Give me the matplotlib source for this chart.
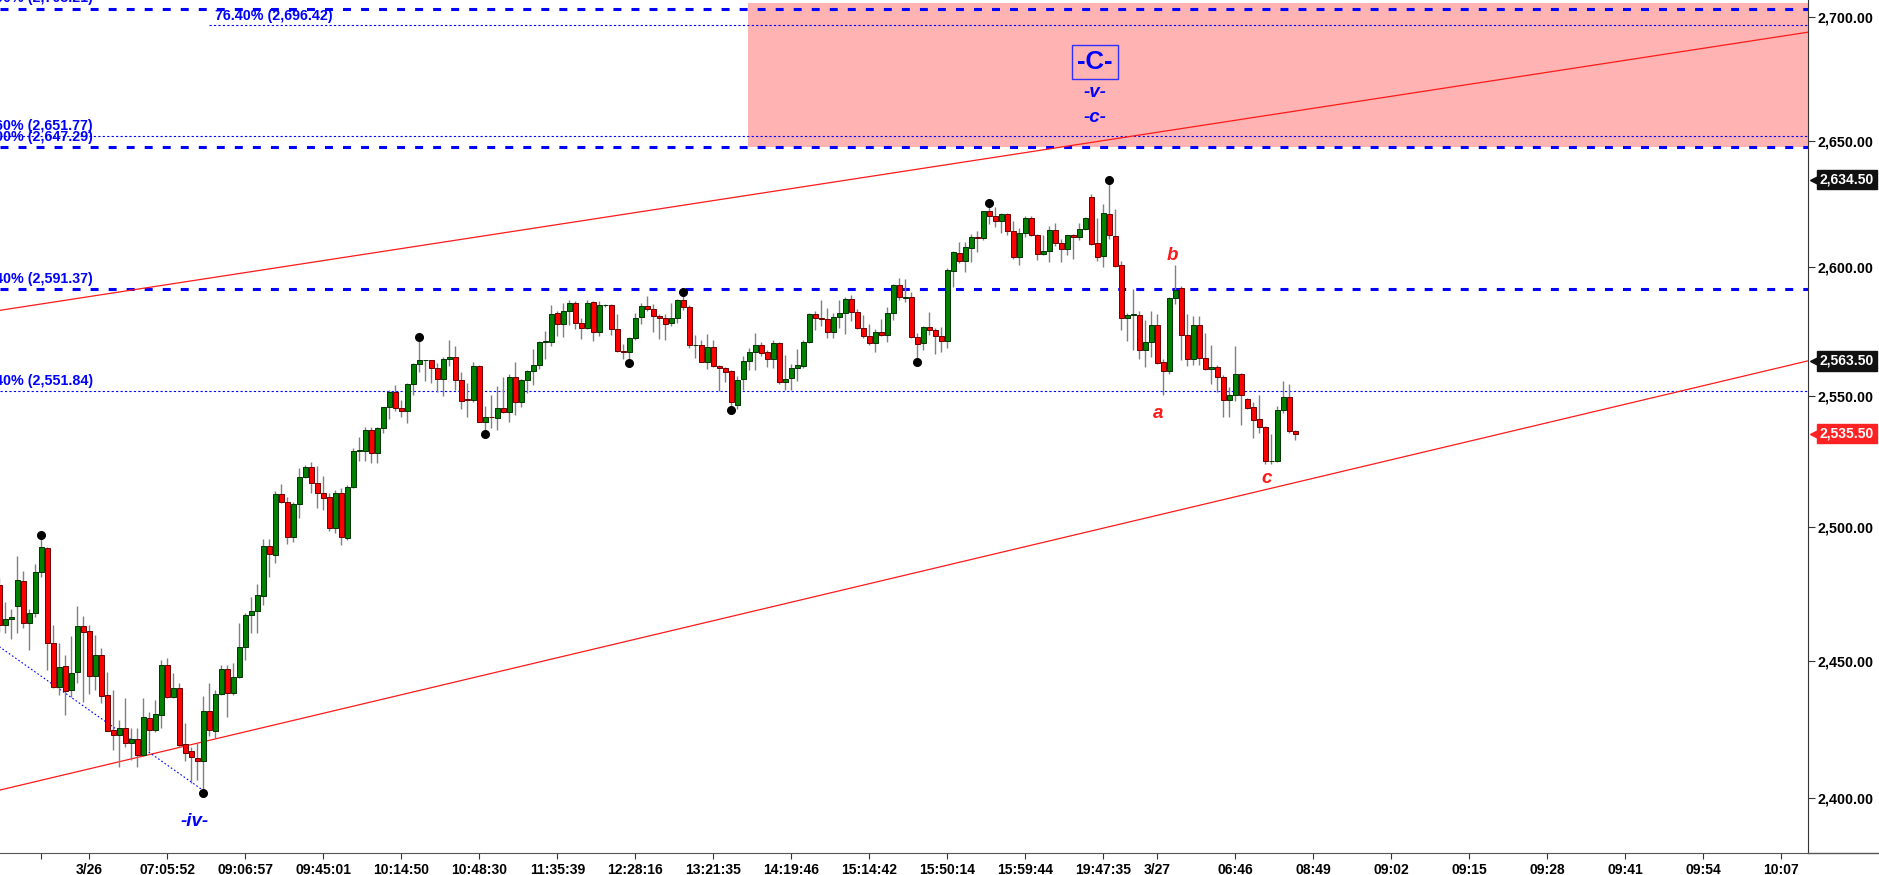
import numpy as np
import matplotlib
matplotlib.use("Agg")
import matplotlib.pyplot as plt
import matplotlib.transforms as mtransforms
from matplotlib.lines import Line2D
from matplotlib.ticker import NullLocator, FuncFormatter

plt.rcParams["font.family"] = ["Liberation Sans", "DejaVu Sans"]

# OHLC bars, one per candle
opens = [
    2478.3, 2463.5, 2465.5, 2470.5, 2479.8, 2464.1, 2467.8, 2483.1, 2492.1, 2456.7,
    2440.6, 2448.3, 2439.4, 2446.2, 2463.1, 2461.2, 2444.7, 2452.4, 2437.5, 2424.8,
    2423.0, 2425.4, 2419.9, 2421.4, 2415.7, 2429.3, 2424.8, 2430.2, 2448.7, 2436.7,
    2440.0, 2419.6, 2416.9, 2414.5, 2413.6, 2431.7, 2424.5, 2437.8, 2447.0, 2438.4,
    2444.1, 2455.4, 2467.2, 2468.8, 2474.3, 2493.0, 2489.6, 2512.4, 2509.7, 2496.5,
    2508.8, 2518.9, 2522.7, 2516.6, 2512.8, 2511.3, 2499.7, 2512.8, 2495.9, 2515.1,
    2528.9, 2529.0, 2537.0, 2528.3, 2537.6, 2545.6, 2551.4, 2545.2, 2544.0, 2554.5,
    2562.2, 2563.8, 2563.8, 2560.6, 2556.6, 2564.1, 2565.0, 2556.1, 2548.8, 2548.6,
    2561.5, 2540.1, 2541.9, 2541.4, 2545.3, 2543.7, 2557.3, 2547.8, 2556.0, 2559.6,
    2561.8, 2570.8, 2570.8, 2582.1, 2577.8, 2582.8, 2586.1, 2578.2, 2576.3, 2586.3,
    2574.7, 2585.1, 2585.3, 2575.9, 2567.3, 2567.0, 2572.4, 2580.4, 2584.8, 2583.7,
    2580.9, 2580.1, 2578.1, 2580.1, 2587.1, 2584.4, 2569.5, 2569.7, 2563.1, 2568.9,
    2561.5, 2560.6, 2559.5, 2546.5, 2556.3, 2563.5, 2566.9, 2569.8, 2566.8, 2564.1,
    2570.4, 2555.3, 2557.0, 2560.6, 2561.6, 2570.8, 2581.5, 2580.0, 2579.8, 2574.6,
    2580.6, 2581.9, 2587.4, 2582.6, 2576.3, 2573.3, 2570.4, 2574.7, 2573.5, 2582.2,
    2592.9, 2588.0, 2588.1, 2572.8, 2570.4, 2576.7, 2575.5, 2573.3, 2571.1, 2598.6,
    2605.4, 2602.2, 2607.6, 2611.8, 2611.3, 2621.9, 2619.9, 2618.2, 2620.9, 2614.2,
    2603.9, 2613.4, 2619.3, 2612.6, 2605.1, 2606.2, 2614.6, 2609.4, 2606.9, 2612.6,
    2611.7, 2614.9, 2627.5, 2609.4, 2604.2, 2621.0, 2612.2, 2600.8, 2580.0, 2581.3,
    2581.3, 2567.7, 2570.6, 2577.4, 2563.1, 2559.6, 2587.9, 2591.8, 2573.4, 2564.1,
    2577.3, 2564.6, 2560.5, 2561.1, 2557.3, 2548.6, 2550.5, 2558.6, 2548.7, 2545.6,
    2541.1, 2537.9, 2525.0, 2525.2, 2544.4, 2549.5, 2536.5,
]
highs = [
    2481.0, 2472.1, 2469.2, 2489.2, 2483.4, 2469.2, 2486.2, 2497.0, 2492.5, 2463.5,
    2456.7, 2452.4, 2459.2, 2470.5, 2466.8, 2463.5, 2459.8, 2454.8, 2446.2, 2439.4,
    2428.4, 2436.3, 2425.4, 2425.4, 2436.3, 2431.5, 2435.7, 2450.5, 2451.1, 2445.6,
    2441.9, 2427.2, 2418.7, 2419.9, 2437.2, 2441.9, 2439.4, 2448.7, 2448.7, 2449.3,
    2464.1, 2467.8, 2474.0, 2478.7, 2495.5, 2495.5, 2513.7, 2516.4, 2511.6, 2509.7,
    2522.3, 2523.6, 2524.6, 2523.0, 2519.2, 2513.1, 2514.1, 2514.7, 2516.0, 2529.9,
    2534.4, 2538.2, 2538.2, 2538.2, 2545.9, 2552.3, 2554.2, 2548.4, 2554.8, 2562.8,
    2572.6, 2564.0, 2564.0, 2562.6, 2565.1, 2571.7, 2569.3, 2559.2, 2555.1, 2563.1,
    2561.8, 2546.0, 2550.4, 2553.8, 2557.3, 2558.6, 2563.1, 2556.6, 2560.1, 2567.9,
    2571.1, 2575.1, 2585.0, 2583.0, 2585.8, 2587.1, 2586.6, 2580.1, 2587.0, 2586.6,
    2586.6, 2585.7, 2585.6, 2581.8, 2570.1, 2572.6, 2582.2, 2586.1, 2588.7, 2585.7,
    2581.8, 2581.8, 2586.1, 2587.6, 2590.2, 2585.0, 2573.4, 2571.7, 2573.7, 2571.7,
    2561.8, 2561.2, 2559.8, 2557.5, 2565.2, 2568.5, 2574.1, 2570.7, 2567.8, 2571.7,
    2570.6, 2565.8, 2562.3, 2568.2, 2571.7, 2581.9, 2582.9, 2587.0, 2583.9, 2582.2,
    2587.2, 2588.1, 2589.0, 2583.5, 2581.1, 2577.6, 2575.9, 2579.6, 2584.4, 2593.3,
    2595.6, 2595.3, 2590.3, 2574.3, 2576.9, 2582.6, 2576.2, 2576.7, 2599.6, 2606.4,
    2609.7, 2609.7, 2613.0, 2614.0, 2622.2, 2625.4, 2623.5, 2621.1, 2621.4, 2618.3,
    2615.5, 2619.9, 2620.0, 2613.1, 2612.7, 2616.1, 2617.4, 2610.9, 2612.7, 2612.9,
    2617.4, 2619.7, 2628.8, 2619.4, 2624.9, 2634.5, 2622.9, 2602.4, 2581.9, 2591.5,
    2582.7, 2579.3, 2582.7, 2581.8, 2564.1, 2588.3, 2600.8, 2592.5, 2581.8, 2580.9,
    2580.9, 2574.4, 2569.8, 2561.8, 2557.9, 2553.4, 2569.3, 2558.9, 2549.1, 2547.6,
    2550.4, 2538.3, 2535.3, 2546.3, 2555.7, 2554.7, 2536.9,
]
lows = [
    2461.0, 2460.4, 2458.2, 2460.4, 2462.2, 2454.2, 2466.5, 2481.5, 2446.8, 2440.0,
    2437.5, 2430.2, 2436.9, 2441.9, 2435.1, 2438.1, 2439.4, 2434.5, 2424.2, 2417.5,
    2411.4, 2418.7, 2413.9, 2411.4, 2415.1, 2416.9, 2424.0, 2425.4, 2436.3, 2436.3,
    2418.7, 2413.3, 2405.4, 2406.6, 2401.7, 2422.4, 2421.8, 2437.5, 2429.6, 2437.5,
    2443.7, 2450.5, 2460.4, 2460.4, 2470.9, 2481.5, 2486.5, 2509.0, 2493.8, 2494.3,
    2503.4, 2518.5, 2512.8, 2507.2, 2506.5, 2498.4, 2497.8, 2493.4, 2495.3, 2514.7,
    2524.9, 2524.9, 2524.5, 2524.5, 2535.9, 2541.3, 2544.0, 2542.0, 2539.7, 2550.3,
    2559.3, 2555.7, 2554.8, 2551.3, 2549.9, 2561.4, 2552.1, 2545.0, 2542.0, 2547.6,
    2539.8, 2535.4, 2537.6, 2537.0, 2543.4, 2539.8, 2542.8, 2545.9, 2551.2, 2554.0,
    2560.2, 2564.1, 2569.3, 2573.0, 2572.6, 2577.3, 2576.0, 2571.9, 2576.0, 2571.1,
    2573.1, 2584.4, 2573.4, 2567.0, 2564.1, 2562.8, 2571.6, 2577.9, 2582.7, 2574.7,
    2572.1, 2571.5, 2577.0, 2578.3, 2583.1, 2568.5, 2564.6, 2562.9, 2560.2, 2561.1,
    2551.8, 2555.3, 2544.4, 2544.8, 2552.1, 2559.9, 2559.9, 2565.2, 2561.2, 2560.6,
    2554.7, 2552.1, 2552.1, 2555.7, 2560.9, 2570.4, 2575.4, 2576.9, 2572.4, 2572.4,
    2576.3, 2573.7, 2578.9, 2575.7, 2572.4, 2569.8, 2566.8, 2573.0, 2570.7, 2579.2,
    2587.2, 2586.4, 2572.4, 2563.2, 2567.8, 2573.4, 2566.1, 2566.8, 2568.4, 2592.0,
    2601.6, 2597.9, 2602.1, 2605.8, 2610.8, 2616.9, 2615.9, 2613.2, 2612.7, 2603.3,
    2600.7, 2611.8, 2612.2, 2602.6, 2604.9, 2602.0, 2608.3, 2602.0, 2604.9, 2603.3,
    2610.5, 2614.4, 2608.7, 2602.2, 2600.0, 2610.9, 2600.0, 2575.5, 2571.2, 2567.7,
    2564.4, 2561.1, 2565.0, 2562.4, 2550.2, 2558.3, 2585.7, 2563.7, 2561.5, 2561.8,
    2561.8, 2559.8, 2554.7, 2551.5, 2542.0, 2542.0, 2548.2, 2538.9, 2545.0, 2533.8,
    2535.6, 2523.9, 2523.9, 2524.6, 2543.4, 2535.6, 2533.1,
]
closes = [
    2463.5, 2465.5, 2466.5, 2480.2, 2464.1, 2467.8, 2483.1, 2492.5, 2456.7, 2440.6,
    2448.0, 2439.2, 2445.6, 2463.1, 2461.0, 2444.7, 2452.4, 2437.3, 2424.5, 2423.0,
    2425.4, 2419.9, 2421.4, 2415.7, 2429.6, 2424.8, 2430.5, 2448.7, 2436.7, 2440.0,
    2419.3, 2416.5, 2414.8, 2413.6, 2431.7, 2424.8, 2437.8, 2447.0, 2438.4, 2444.1,
    2455.2, 2467.2, 2468.8, 2474.6, 2493.0, 2490.0, 2512.4, 2509.4, 2496.5, 2508.8,
    2518.9, 2522.7, 2516.6, 2512.8, 2510.9, 2499.7, 2512.8, 2496.3, 2515.1, 2528.9,
    2529.1, 2537.0, 2528.3, 2537.6, 2545.6, 2551.4, 2545.2, 2544.0, 2554.5, 2562.2,
    2563.8, 2563.9, 2560.6, 2556.6, 2564.1, 2565.0, 2556.0, 2548.2, 2548.6, 2561.5,
    2540.1, 2541.8, 2541.7, 2545.3, 2543.7, 2557.3, 2547.8, 2556.0, 2559.6, 2562.0,
    2570.8, 2571.0, 2581.7, 2577.7, 2583.0, 2586.1, 2578.2, 2576.3, 2585.9, 2574.7,
    2585.3, 2585.2, 2575.9, 2567.2, 2567.1, 2572.4, 2580.1, 2584.8, 2583.5, 2580.8,
    2580.1, 2577.7, 2580.1, 2587.2, 2584.4, 2569.5, 2569.7, 2563.1, 2568.9, 2561.5,
    2560.6, 2559.3, 2547.6, 2556.2, 2563.5, 2566.9, 2569.8, 2566.5, 2564.1, 2570.4,
    2555.3, 2556.6, 2560.6, 2561.9, 2570.8, 2581.5, 2580.2, 2579.8, 2574.6, 2580.6,
    2582.2, 2587.4, 2582.5, 2576.3, 2573.3, 2570.4, 2574.7, 2573.5, 2582.2, 2592.9,
    2588.1, 2588.2, 2572.8, 2570.1, 2576.7, 2575.4, 2573.0, 2571.1, 2598.8, 2605.8,
    2602.2, 2607.7, 2611.7, 2611.6, 2621.9, 2619.9, 2618.2, 2620.9, 2614.2, 2603.9,
    2613.4, 2619.3, 2612.5, 2605.1, 2606.3, 2614.6, 2609.3, 2606.9, 2612.6, 2611.7,
    2614.9, 2619.3, 2608.9, 2603.9, 2621.2, 2612.5, 2600.3, 2580.0, 2581.3, 2581.5,
    2567.7, 2570.7, 2577.4, 2562.7, 2559.6, 2587.9, 2590.9, 2573.4, 2564.1, 2577.3,
    2564.6, 2560.5, 2561.1, 2557.3, 2548.6, 2550.4, 2558.6, 2550.5, 2545.3, 2540.9,
    2537.9, 2524.9, 2525.2, 2544.6, 2549.5, 2536.6, 2535.5,
]

# time axis labels (bar index -> label)
tick_pos = [7, 15, 28, 41, 54, 67, 80, 93, 106, 119, 132, 145,
            158, 171, 184, 193, 206, 219, 232, 245, 258, 271, 284, 297]
tick_labels = ["", "3/26", "07:05:52", "09:06:57", "09:45:01", "10:14:50",
               "10:48:30", "11:35:39", "12:28:16", "13:21:35", "14:19:46",
               "15:14:42", "15:50:14", "15:59:44", "19:47:35", "3/27", "06:46",
               "08:49", "09:02", "09:15", "09:28", "09:41", "09:54", "10:07"]
day_breaks = [15, 193]

price_ticks = [2400, 2450, 2500, 2550, 2600, 2650, 2700]

# fibonacci levels
fib_levels = [2703.21, 2651.77, 2647.29, 2591.37, 2551.84]
fib_labels = ["00% (2,703.21)", "60% (2,651.77)", "00% (2,647.29)",
              "40% (2,591.37)", "40% (2,551.84)"]
fib_heavy = [True, False, True, True, False]
fib_short_level = 2696.42
fib_short_label = "76.40% (2,696.42)"
fib_short_start = 34.9

swing_highs = [7, 70, 114, 165, 185]
swing_lows = [34, 81, 105, 122, 153]

channel_upper = [2583.1, 2693.7]
channel_lower = [2402.9, 2563.5]
iv_line_x = [0, 34.8]
iv_line_p = [2455.4, 2401.5]

zone_start = 124.8
zone_low, zone_high = 2647.29, 2705.6

wave_labels = [("-v-", 182.6, 2669.4), ("-c-", 182.6, 2659.4), ("-iv-", 32.6, 2391.4)]
abc_labels = [("a", 193.2, 2543.3), ("b", 195.5, 2604.7), ("c", 211.3, 2518.3)]

price_tags = [(2634.50, "#111111"), (2563.50, "#111111"), (2535.50, "#ff2222")]

BLUE = "#0000ff"
XMIN, XMAX = 0.12, 301.45
YMIN, YMAX = 2380.2, 2706.8

fig = plt.figure(figsize=(18.79, 8.75), dpi=100)
ax = fig.add_axes([0, 22 / 875, 1808 / 1879, 853 / 875])
ax.set_yscale("log")
ax.set_xlim(XMIN, XMAX)
ax.set_ylim(YMIN, YMAX)

o = np.array(opens); h = np.array(highs); l = np.array(lows); c = np.array(closes)
x = np.arange(len(o))
up = c >= o

# target zone
ax.fill_between([zone_start, XMAX], zone_low, zone_high, color="#ffb3b3", lw=0, zorder=0)

# fib lines + labels
for lvl, lab, heavy in zip(fib_levels, fib_labels, fib_heavy):
    if heavy:
        ax.axhline(lvl, color=BLUE, lw=2.2, dashes=(2.6, 3.3), zorder=1)
    else:
        ax.axhline(lvl, color=BLUE, lw=0.8, dashes=(2, 2), zorder=1)
    ax.annotate(lab, xy=(15.6, lvl), xytext=(0, 2.5), textcoords="offset points",
                ha="right", va="bottom", color=BLUE, fontsize=10.3, fontweight="bold")
ax.plot([fib_short_start, XMAX], [fib_short_level] * 2, color=BLUE, lw=0.8, dashes=(2, 2), zorder=1)
ax.annotate(fib_short_label, xy=(fib_short_start + 1.1, fib_short_level), xytext=(0, 1.5),
            textcoords="offset points", ha="left", va="bottom", color=BLUE,
            fontsize=10.3, fontweight="bold")

# channel and wave iv trendline
ax.plot([XMIN, XMAX], channel_upper, color="#ff1a1a", lw=0.9, zorder=1)
ax.plot([XMIN, XMAX], channel_lower, color="#ff1a1a", lw=0.9, zorder=1)
ax.plot(iv_line_x, iv_line_p, color=BLUE, lw=0.8, dashes=(1.5, 2), zorder=1)

# candles
ax.vlines(x, l, h, color="#808080", lw=1.0, zorder=2)
bot = np.minimum(o, c)
hgt = np.abs(c - o)
ax.bar(x[up], hgt[up], bottom=bot[up], width=0.75, color="#008000",
       edgecolor="#003300", lw=0.7, zorder=3)
ax.bar(x[~up], hgt[~up], bottom=bot[~up], width=0.75, color="#ff0000",
       edgecolor="#6a0000", lw=0.7, zorder=3)

ax.plot(x[swing_highs], h[swing_highs], "o", color="black", ms=5.5, zorder=4)
ax.plot(x[swing_lows], l[swing_lows], "o", color="black", ms=5.5, zorder=4)

# wave labels
ax.text(182.6, 2681.5, "-C-", color=BLUE, fontsize=18.5, fontweight="bold",
        ha="center", va="center",
        bbox=dict(boxstyle="square,pad=0.2", fc="none", ec="#3030ff", lw=1))
for txt, xx, yy in wave_labels:
    ax.text(xx, yy, txt, color=BLUE, fontsize=13.5, fontweight="bold",
            fontstyle="italic", ha="center", va="center")
for txt, xx, yy in abc_labels:
    ax.text(xx, yy, txt, color="#ff1a1a", fontsize=13.5, fontweight="bold",
            fontstyle="italic", ha="center", va="center")

# axes styling
for s in ("top", "left"):
    ax.spines[s].set_visible(False)
ax.spines["right"].set_color("#333333")
ax.spines["bottom"].set_color("#555555")
fig.add_artist(Line2D([1808 / 1879, 1], [22 / 875, 22 / 875], color="#555555", lw=1,
                      transform=fig.transFigure))

ax.yaxis.tick_right()
ax.yaxis.set_minor_locator(NullLocator())
ax.set_yticks(price_ticks)
ax.yaxis.set_major_formatter(FuncFormatter(lambda v, p: f"{v:,.2f}"))
ax.tick_params(axis="y", length=5, pad=2, labelsize=10.3, color="#333333")
for t in ax.get_yticklabels():
    t.set_fontweight("bold")

ax.set_xticks(tick_pos)
ax.set_xticklabels(tick_labels, fontsize=10, fontweight="bold")
ax.set_xticks(day_breaks, minor=True)
ax.tick_params(axis="x", which="major", length=4, pad=3, color="#333333")
ax.tick_params(axis="x", which="minor", length=11, color="#333333")

# last price tags on the right axis
trans = mtransforms.blended_transform_factory(ax.transAxes, ax.transData)
for p, col in price_tags:
    ax.plot([1.004], [p], marker="<", ms=7.5, color=col, transform=trans, clip_on=False, zorder=9)
    ax.text(1.0065, p, f"{p:,.2f}", transform=trans, ha="left", va="center",
            color="white", fontsize=10, fontweight="bold", clip_on=False, zorder=10,
            bbox=dict(boxstyle="square,pad=0.2", fc=col, ec=col))

fig.savefig("out.png", dpi=100)
